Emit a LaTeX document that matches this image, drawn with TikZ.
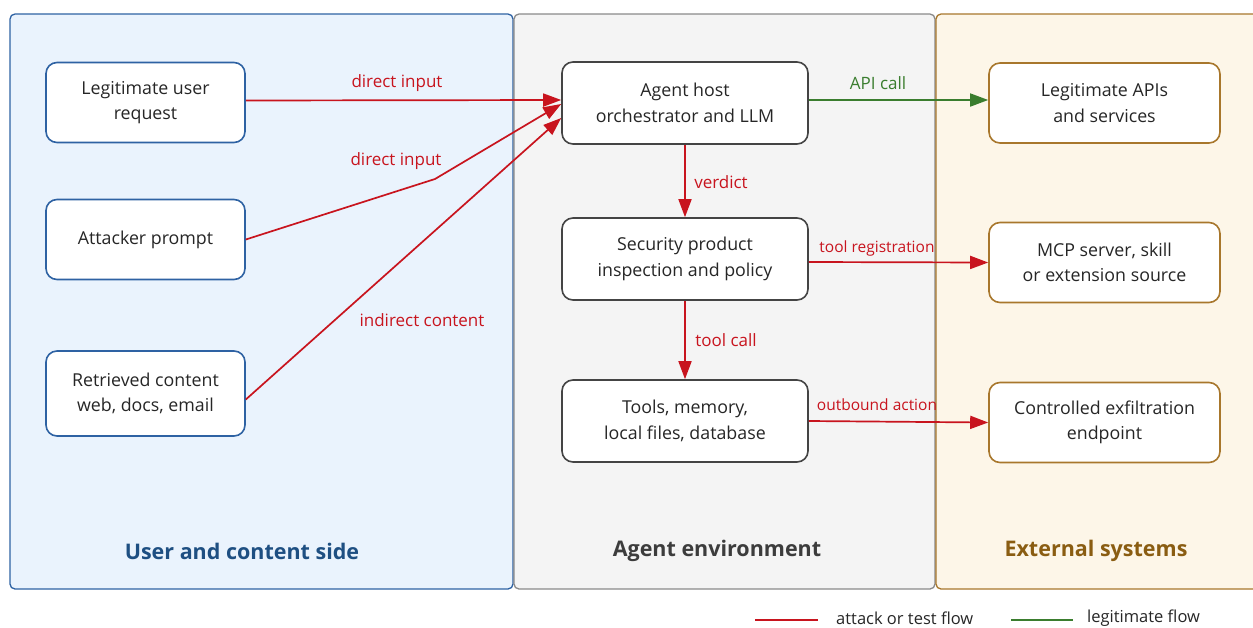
\documentclass[tikz,border=0pt]{standalone}
\usepackage{fontspec}
\setmainfont{Open Sans}
\usetikzlibrary{arrows.meta,calc}
\definecolor{bluefill}{HTML}{EAF3FD}
\definecolor{blueline}{HTML}{2E62A3}
\definecolor{bluetitle}{HTML}{1E4F82}
\definecolor{grayfill}{HTML}{F4F4F4}
\definecolor{grayline}{HTML}{8A8A8A}
\definecolor{graytitle}{HTML}{3C3C3C}
\definecolor{orfill}{HTML}{FDF6E8}
\definecolor{orline}{HTML}{A8772C}
\definecolor{ortitle}{HTML}{8A5D12}
\definecolor{attack}{HTML}{C8141E}
\definecolor{legit}{HTML}{3A7D2E}
\definecolor{boxgray}{HTML}{444444}
\tikzset{
  panel/.style={rounded corners=5pt, line width=1.3pt},
  box/.style={draw, fill=white, rounded corners=11pt, line width=1.6pt, minimum width=199pt, minimum height=80pt, align=center, font=\fontsize{17.8}{25.5}\selectfont, text=black!85},
  ubox/.style={box, draw=blueline},
  abox/.style={box, draw=boxgray, minimum width=246pt, minimum height=82pt},
  ebox/.style={box, draw=orline, minimum width=231pt, minimum height=80pt},
  atk/.style={draw=attack, line width=1.7pt, -{Triangle[length=18pt,width=13pt]}},
  lgt/.style={draw=legit, line width=1.7pt, -{Triangle[length=18pt,width=13pt]}},
  lbl/.style={font=\fontsize{17}{19}\selectfont, inner sep=0pt},
  ptitle/.style={font=\fontsize{21.5}{25}\selectfont\bfseries},
  legtxt/.style={font=\fontsize{16.5}{18}\selectfont, text=black!85, inner sep=0pt}
}
\begin{document}
\begin{tikzpicture}[x=1pt,y=-1pt]
\useasboundingbox (0,0) rectangle (1253,627);
% panels
\draw[panel, fill=bluefill, draw=blueline] (10,14) rectangle (513,589);
\draw[panel, fill=grayfill, draw=grayline] (514,14) rectangle (935,589);
\draw[panel, fill=orfill, draw=orline] (936,14) rectangle (1262,589);
\node[ptitle, text=bluetitle] (t1) at (242,551) {User and content side};
\node[ptitle, text=graytitle] (t2) at (717,551) {Agent environment};
\node[ptitle, text=ortitle] (t3) at (1096,551) {External systems};
% nodes
\node[ubox] (user) at (145.5,102.5) {Legitimate user\\request};
\node[ubox] (att) at (145.5,239.5) {Attacker prompt};
\node[ubox, minimum height=85pt] (ret) at (145.5,393.5) {Retrieved content\\web, docs, email};
\node[abox] (agent) at (685,103) {Agent host\\orchestrator and LLM};
\node[abox] (sec) at (685,259) {Security product\\inspection and policy};
\node[abox] (tools) at (685,421) {Tools, memory,\\local files, database};
\node[ebox] (api) at (1104.5,103) {Legitimate APIs\\and services};
\node[ebox] (mcp) at (1104.5,262.5) {MCP server, skill\\or extension source};
\node[ebox] (exf) at (1104.5,422.5) {Controlled exfiltration\\endpoint};
% connectors
\coordinate (bend) at (435,179);
\draw[atk] ($(user.east)+(0,-2)$) -- ($(agent.west)+(0,-3)$);
\draw[atk] (att.east) -- (bend) -- ($(agent.west)+(0,1)$);
\draw[atk] ($(ret.east)+(0,6)$) -- ($(agent.west)+(0,15)$);
\draw[lgt] ($(agent.east)+(0,-3)$) -- ($(api.west)+(0,-3)$);
\draw[atk] (agent.south) -- (sec.north);
\draw[atk] (sec.south) -- (tools.north);
\draw[atk] ($(sec.east)+(0,3)$) -- (mcp.west);
\draw[atk] (tools.east) -- (exf.west);
% labels
\node[lbl, text=attack] (l1) at (397,83) {direct input};
\node[lbl, text=attack] (l2) at (396,161) {direct input};
\node[lbl, text=attack] (l3) at (422,320) {indirect content};
\node[lbl, text=legit] (l4) at (878,83) {API call};
\node[lbl, text=attack] (l5) at (721,182) {verdict};
\node[lbl, text=attack] (l6) at (726,340) {tool call};
\node[lbl, text=attack, font=\fontsize{15.5}{17}\selectfont] (l7) at (877,248) {tool registration};
\node[lbl, text=attack, font=\fontsize{15.5}{17}\selectfont] (l8) at (877,405) {outbound action};
% legend
\coordinate (la) at (755,620);
\coordinate (lb) at (818,620);
\draw[draw=attack, line width=1.6pt] (la) -- (lb);
\node[legtxt, anchor=west] (lt1) at (836,618) {attack or test flow};
\coordinate (lc) at (1011,620);
\coordinate (ld) at (1073,620);
\draw[draw=legit, line width=1.6pt] (lc) -- (ld);
\node[legtxt, anchor=west] (lt2) at (1087,618) {legitimate flow};
\end{tikzpicture}
\end{document}
